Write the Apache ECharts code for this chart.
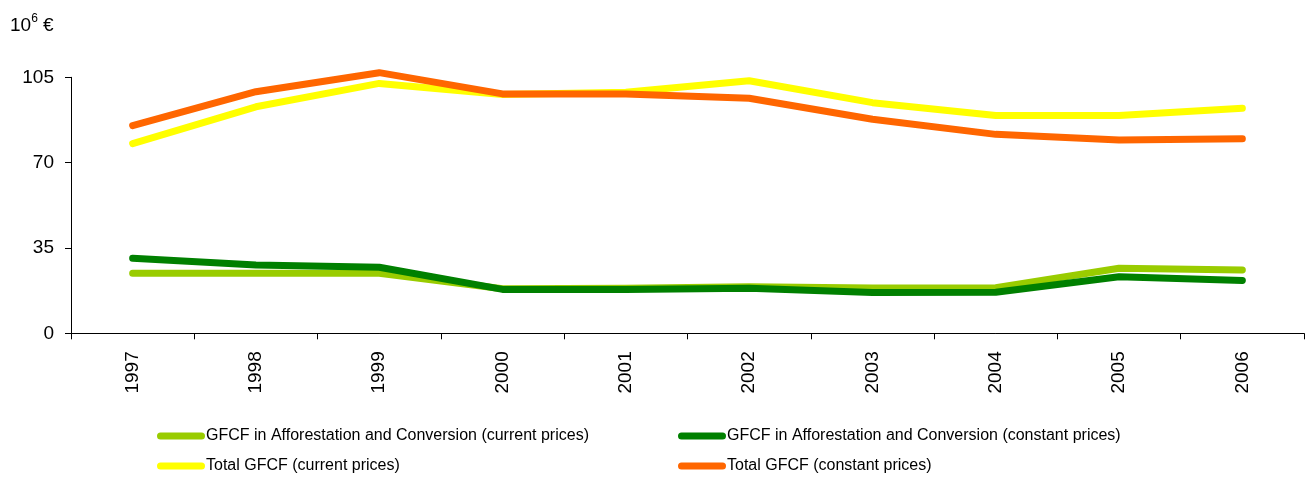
<!DOCTYPE html>
<html>
<head>
<meta charset="utf-8">
<script src="https://cdn.jsdelivr.net/npm/echarts@6/dist/echarts.min.js"></script>
<style>
  html, body { margin: 0; padding: 0; background: #ffffff; }
  #chart { width: 1313px; height: 477px; }
</style>
</head>
<body>
<div id="chart"></div>
<script>
// Gross fixed capital formation, million euro
const years = ['1997', '1998', '1999', '2000', '2001', '2002', '2003', '2004', '2005', '2006'];
const afforestCurrent = [24.6, 24.6, 24.6, 18.3, 18.5, 19.1, 18.6, 18.7, 26.7, 26.0];
const afforestConstant = [30.8, 28.0, 27.1, 18.0, 18.0, 18.5, 16.7, 16.8, 23.2, 21.7];
const totalCurrent = [77.8, 92.9, 102.5, 97.9, 98.9, 103.6, 94.6, 89.3, 89.3, 92.3];
const totalConstant = [85.2, 99.1, 106.9, 98.2, 98.2, 96.4, 87.8, 81.6, 79.3, 79.8];
const yTicks = [0, 35, 70, 105];

const names = [
  'GFCF in Afforestation and Conversion (current prices)',
  'GFCF in Afforestation and Conversion (constant prices)',
  'Total GFCF (current prices)',
  'Total GFCF (constant prices)'
];
const colors = ['#99cc00', '#008000', '#ffff00', '#ff6600'];
const values = [afforestCurrent, afforestConstant, totalCurrent, totalConstant];

// legend slots: two columns, two rows
const legendLeft = [157, 678, 157, 678];
const legendTop = [428, 428, 458, 458];

const font = '"Liberation Sans", Arial, sans-serif';

function lineSeries(i) {
  return {
    name: names[i],
    type: 'line',
    data: values[i],
    symbol: 'none',
    clip: false,
    lineStyle: { color: colors[i], width: 7, cap: 'round', join: 'round' },
    itemStyle: { color: colors[i] },
    z: 2 + i
  };
}

function legendItem(i) {
  return {
    data: [names[i]],
    left: legendLeft[i],
    top: legendTop[i],
    padding: 0,
    itemWidth: 48,
    itemHeight: 7,
    icon: 'path://M3.5,0 L44.5,0 A3.5,3.5 0 0 1 44.5,7 L3.5,7 A3.5,3.5 0 0 1 3.5,0 Z',
    textStyle: { fontFamily: font, fontSize: 16, color: '#000', padding: [0, 0, 0, -4] },
    selectedMode: false
  };
}

const chart = echarts.init(document.getElementById('chart'), null, { renderer: 'canvas' });
chart.setOption({
  animation: false,
  backgroundColor: '#ffffff',
  grid: { left: 71, right: 9, top: 77.3, bottom: 143.7, containLabel: false },
  title: {
    text: '{b|10}{s|6}{b| €}',
    left: 5,
    top: 8,
    textStyle: {
      fontWeight: 'normal',
      rich: {
        b: { fontFamily: font, fontSize: 19, fontWeight: 'normal', color: '#000', verticalAlign: 'bottom', lineHeight: 22 },
        s: { fontFamily: font, fontSize: 12, fontWeight: 'normal', color: '#000', verticalAlign: 'top', lineHeight: 22, padding: [0, 0, 8, 0] }
      }
    }
  },
  legend: [0, 1, 2, 3].map(legendItem),
  xAxis: {
    type: 'category',
    data: years,
    boundaryGap: true,
    axisLine: { lineStyle: { color: '#000', width: 1 } },
    axisTick: { show: true, alignWithLabel: false, length: 6, lineStyle: { color: '#000' } },
    axisLabel: { rotate: 90, margin: 18, fontFamily: font, fontSize: 19, color: '#000' },
    splitLine: { show: false }
  },
  yAxis: {
    type: 'value',
    min: yTicks[0],
    max: yTicks[yTicks.length - 1],
    interval: yTicks[1] - yTicks[0],
    axisLine: { show: true, lineStyle: { color: '#000', width: 1 } },
    axisTick: { show: true, length: 6, lineStyle: { color: '#000' } },
    axisLabel: { margin: 17, fontFamily: font, fontSize: 19, color: '#000' },
    splitLine: { show: false }
  },
  series: [0, 1, 2, 3].map(lineSeries)
});
</script>
</body>
</html>
